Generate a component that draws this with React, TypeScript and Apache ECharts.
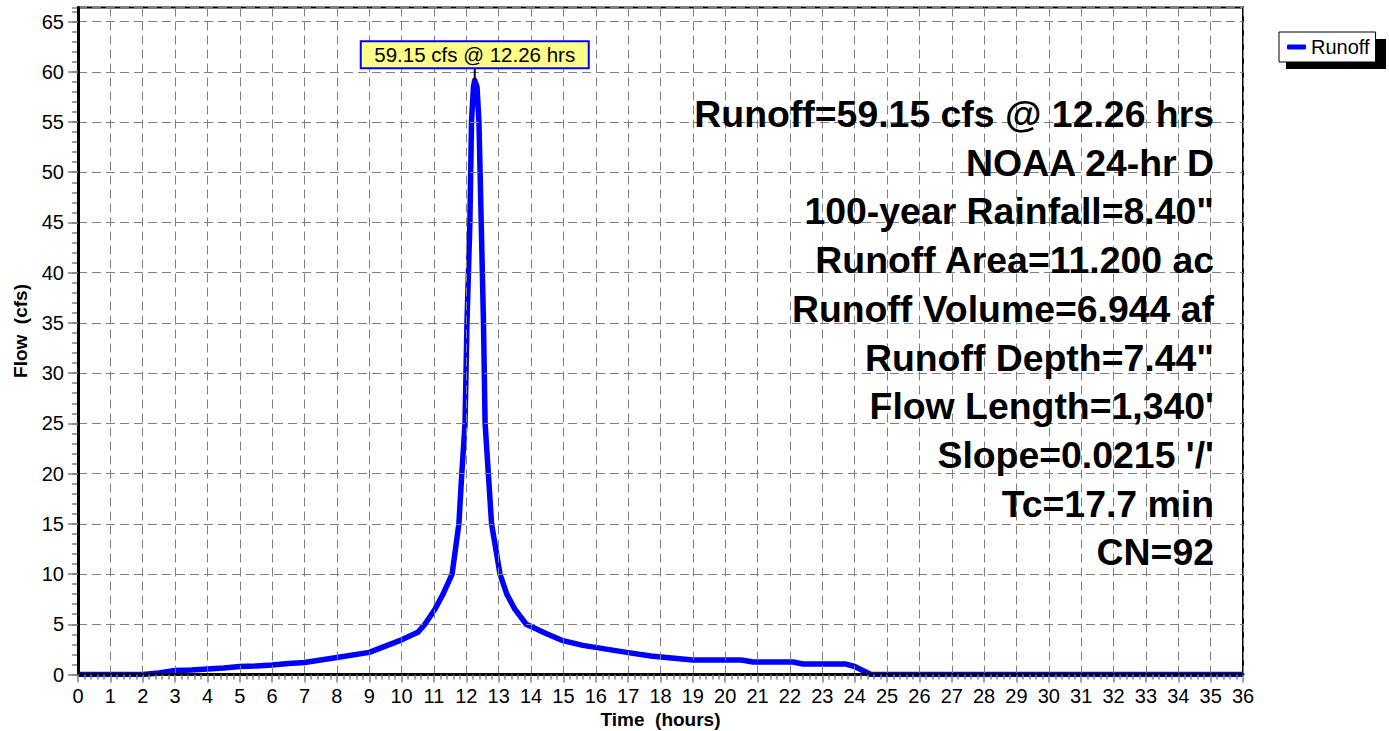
import React, { useEffect, useRef } from 'react';
import * as echarts from 'echarts';

const seriesName = 'Runoff';
const timeHours = [0, 2.0, 2.5, 3.0, 3.5, 4.0, 4.5, 5.0, 5.5, 6.0, 6.5, 7.0, 8.0, 9.0, 10.0, 10.5, 10.72, 11.03, 11.28, 11.56, 11.77, 11.86, 11.96, 12.02, 12.11, 12.16, 12.22, 12.26, 12.33, 12.39, 12.46, 12.53, 12.58, 12.68, 12.78, 13.04, 13.25, 13.5, 13.85, 14.48, 14.95, 15.6, 16.95, 17.7, 18.5, 19.0, 20.5, 20.86, 22.1, 22.4, 23.7, 24.0, 24.5, 36];
const flowCfs = [0, 0, 0.15, 0.4, 0.45, 0.55, 0.65, 0.8, 0.85, 0.95, 1.1, 1.2, 1.7, 2.2, 3.45, 4.2, 5.0, 6.5, 8.0, 10.0, 15, 20, 25, 35, 45, 55, 58.5, 59.15, 58.5, 55, 45, 35, 25, 20, 15, 10, 8, 6.5, 5, 4.05, 3.4, 2.9, 2.2, 1.85, 1.6, 1.45, 1.45, 1.25, 1.25, 1.05, 1.05, 0.8, 0, 0];
const peakTime = 12.26;
const peakFlow = 59.15;
const peakLabel = '59.15 cfs @ 12.26 hrs';
const infoLines = [
  'Runoff=59.15 cfs @ 12.26 hrs',
  'NOAA 24-hr D',
  '100-year Rainfall=8.40"',
  'Runoff Area=11.200 ac',
  'Runoff Volume=6.944 af',
  'Runoff Depth=7.44"',
  "Flow Length=1,340'",
  "Slope=0.0215 '/'",
  'Tc=17.7 min',
  'CN=92',
];
const xAxisTitle = 'Time  (hours)';
const yAxisTitle = 'Flow  (cfs)';
const xMin = 0, xMax = 36, xStep = 1;
const yMin = 0, yMax = 66.4, yStep = 5;

const FONT = 'Arial, "Liberation Sans", Helvetica, sans-serif';

export default function App() {
  const ref = useRef<HTMLDivElement>(null);
  useEffect(() => {
    const chart = echarts.init(ref.current!, null, { renderer: 'svg' });
    const data = timeHours.map((t, i) => [t, flowCfs[i]]);
    chart.setOption({
      animation: false,
      backgroundColor: '#fff',
      textStyle: { fontFamily: FONT },
      grid: {
        left: 78, right: 146, top: 7.5, bottom: 56.5,
        show: true, borderColor: '#000', borderWidth: 2, backgroundColor: 'transparent',
        outerBoundsMode: 'none',
      },
      legend: {
        left: 1279, top: 32,
        padding: [5, 6, 5, 8],
        itemWidth: 19, itemHeight: 5, icon: 'roundRect',
        backgroundColor: '#fff', borderColor: '#000', borderWidth: 1, borderRadius: 0,
        textStyle: { fontSize: 20, color: '#000', fontFamily: FONT, lineHeight: 20 },
        data: [seriesName],
        z: 10,
      },
      xAxis: {
        type: 'value', min: xMin, max: xMax, interval: xStep,
        name: xAxisTitle, nameLocation: 'middle', nameGap: 35,
        nameTextStyle: { fontSize: 19, fontWeight: 'bold', color: '#000', fontFamily: FONT },
        axisLine: { show: true, onZero: false, lineStyle: { color: '#000', width: 3 } },
        axisTick: { show: true, length: 8, lineStyle: { color: '#808080', width: 1.5 } },
        minorTick: { show: true, splitNumber: 5, length: 5, lineStyle: { color: '#808080', width: 1.5 } },
        axisLabel: { fontSize: 20, color: '#000', margin: 11, fontFamily: FONT },
        splitLine: { show: true, lineStyle: { color: '#808080', type: [9, 5], width: 1 } },
        z: 5,
      },
      yAxis: [
        {
          type: 'value', min: yMin, max: yMax, interval: yStep,
          axisLine: { show: true, onZero: false, lineStyle: { color: '#000', width: 3 } },
          axisTick: { show: true, length: 10, lineStyle: { color: '#808080', width: 1.5 } },
          axisLabel: {
            fontSize: 20, color: '#000', margin: 14, fontFamily: FONT, showMaxLabel: false,
            formatter: (v: number) => (v % yStep === 0 ? String(v) : ''),
          },
          splitLine: { show: true, lineStyle: { color: '#808080', type: [9, 5], width: 1 } },
          z: 5,
        },
        {
          type: 'value', min: yMin, max: yMax, interval: 1, position: 'left',
          axisLine: { show: false },
          axisTick: { show: true, length: 6, lineStyle: { color: '#808080', width: 1.5 } },
          axisLabel: { show: false },
          splitLine: { show: false },
        },
      ],
      series: [
        {
          name: seriesName, type: 'line', data, yAxisIndex: 0,
          showSymbol: false, symbol: 'none',
          lineStyle: { color: '#0000ff', width: 5.5, join: 'round' },
          itemStyle: { color: '#0000ff' },
          z: 3,
        },
      ],
    });

    const [px, py] = chart.convertToPixel({ gridIndex: 0 }, [peakTime, peakFlow]) as number[];
    const boxW = 228, boxH = 27, gap = 12;
    const graphics: any[] = [
      // legend shadow
      { type: 'rect', shape: { x: 1286, y: 39, width: 100, height: 30 }, style: { fill: '#000' }, z: 1 },
      // y axis title
      {
        type: 'text', x: 20, y: 331, rotation: Math.PI / 2,
        style: { text: yAxisTitle, font: `bold 19px ${FONT}`, fill: '#000', align: 'center', verticalAlign: 'middle' },
      },
      // peak annotation
      { type: 'line', shape: { x1: px, y1: py - gap, x2: px, y2: py }, style: { stroke: '#000', lineWidth: 2 }, z: 20 },
      {
        type: 'rect', shape: { x: px - boxW / 2, y: py - gap - boxH, width: boxW, height: boxH },
        style: { fill: '#ffff88', stroke: '#0000ff', lineWidth: 2 }, z: 20,
      },
      {
        type: 'text', x: px, y: py - gap - boxH / 2,
        style: { text: peakLabel, font: `20.5px ${FONT}`, fill: '#000', align: 'center', verticalAlign: 'middle' }, z: 21,
      },
    ];
    infoLines.forEach((line, i) => {
      graphics.push({
        type: 'text', x: 1214, y: 114 + i * 48.7,
        style: { text: line, font: `bold 37.4px ${FONT}`, fill: '#000', align: 'right', verticalAlign: 'middle' },
        z: 15,
      });
    });
    chart.setOption({ graphic: graphics });

    return () => chart.dispose();
  }, []);
  return <div ref={ref} style={{ position: 'absolute', left: 0, top: 0, width: 1389, height: 731 }} />;
}
